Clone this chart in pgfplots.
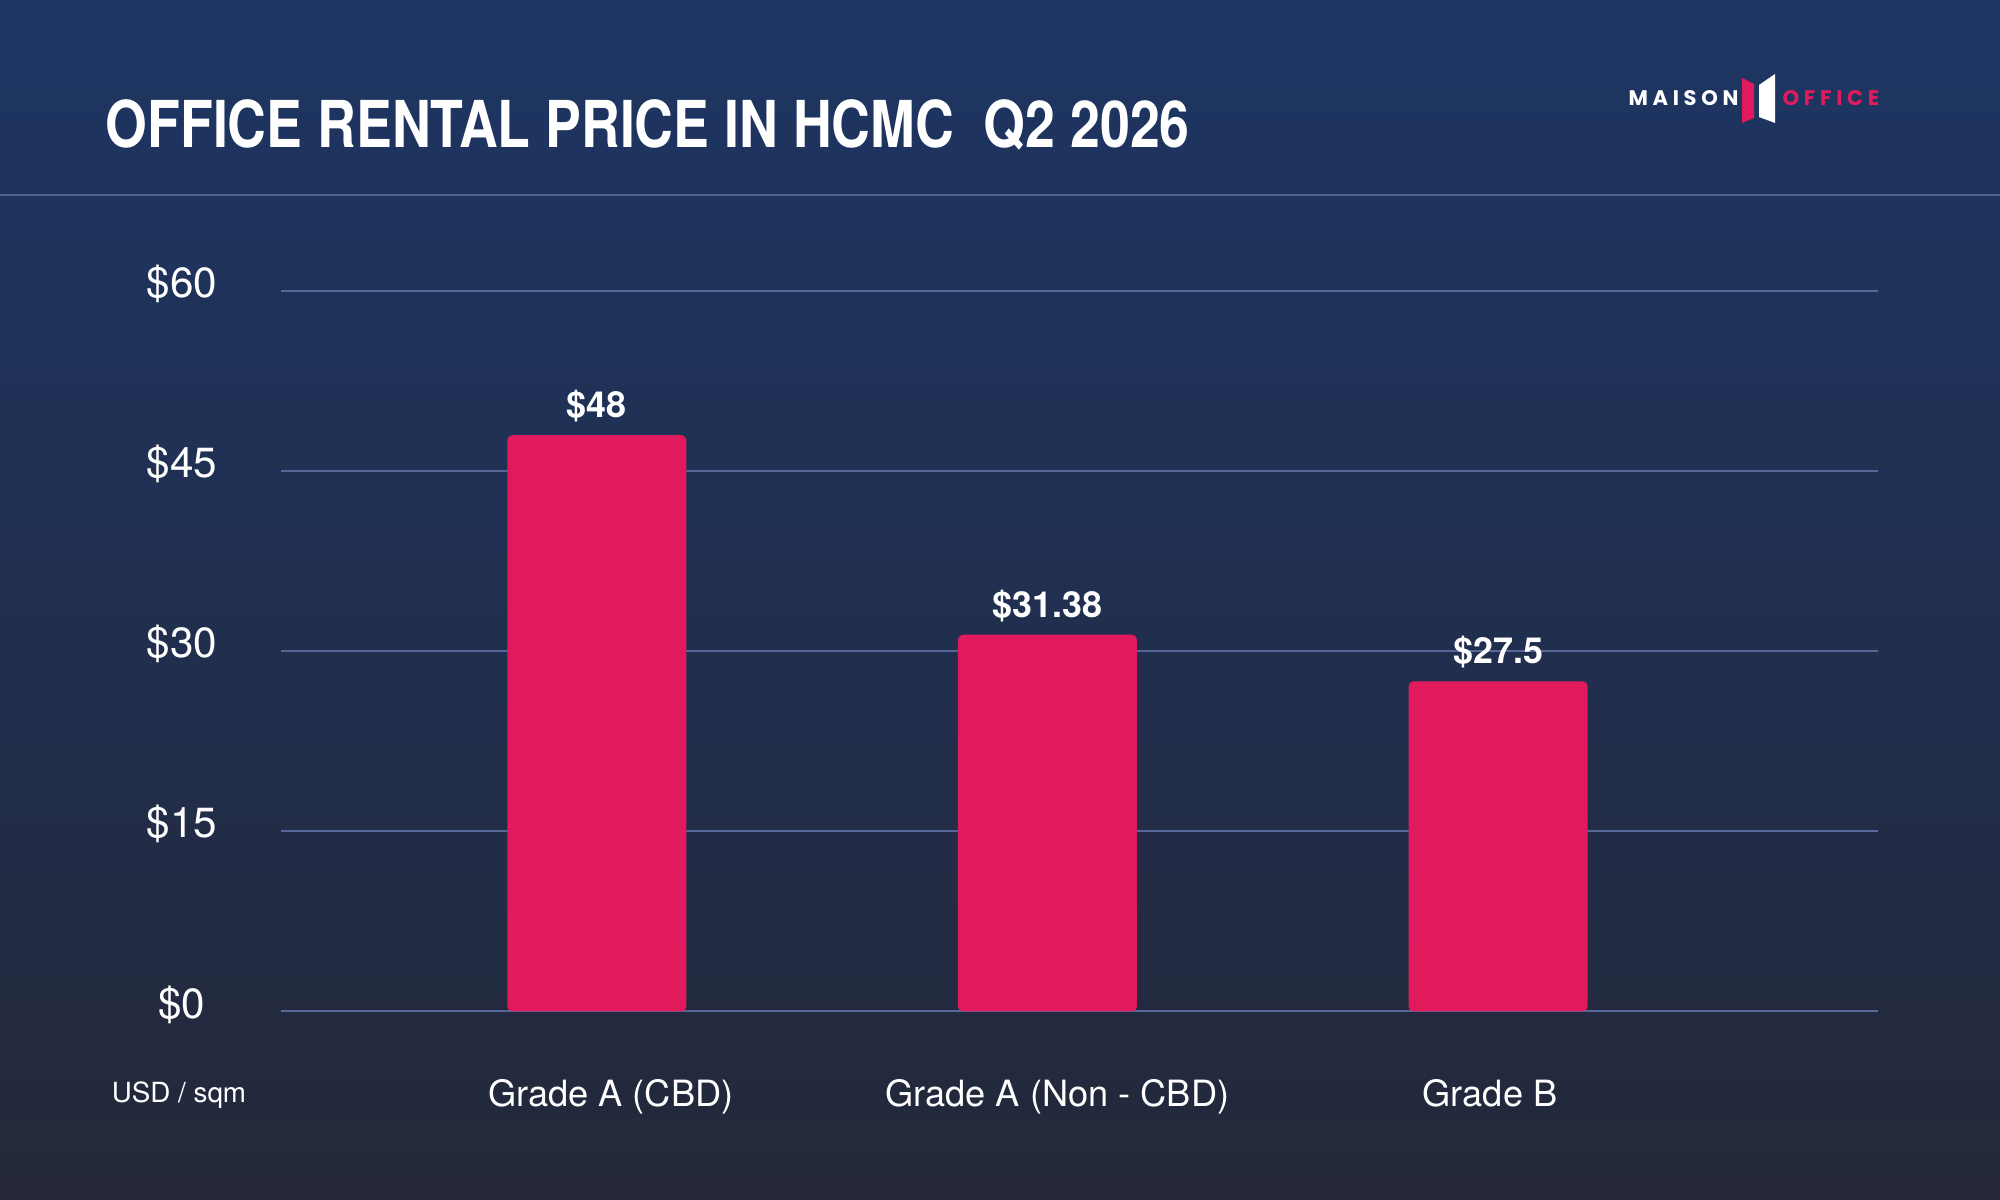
\documentclass[border=0pt]{standalone}
\usepackage{pgfplots}
\pgfplotsset{compat=1.18}
\usepackage{pgfplotstable}
\usepackage{fontspec}
\setmainfont{TeX Gyre Heros}
\newfontfamily\logofont[LetterSpace=22]{Poppins}

\definecolor{bgtop}{HTML}{1D3664}
\definecolor{bgmid}{HTML}{212F50}
\definecolor{bgbot}{HTML}{242838}
\definecolor{barpink}{HTML}{E11A5D}
\definecolor{gridc}{HTML}{56689A}
\definecolor{rulec}{HTML}{4E6394}

% Average asking rent, USD per sqm per month
\pgfplotstableread{
x y
0 48
1 31.38
2 27.5
}\rents

\begin{document}
\begin{tikzpicture}[x=0.1mm,y=0.1mm]
  % background
  \path[use as bounding box] (0,0) rectangle (2000,1200);
  \begin{scope}
    \clip (0,0) rectangle (2000,1200);
    \shade[top color=bgtop, bottom color=bgbot, middle color=bgmid] (-20,-20) rectangle (2020,1220);
  \end{scope}
  \draw[rulec, line width=0.15mm] (0,1005) -- (2000,1005);

  % title
  \node[anchor=base west, inner sep=0, text=white,
        font=\fontsize{18.4}{20}\selectfont\bfseries] at (105,1052)
       {\scalebox{0.83}[1]{OFFICE RENTAL PRICE IN HCMC\ \ Q2 2026}};

  % brand mark
  \node[anchor=base west, inner sep=0, text=white,
        font=\logofont\fontsize{6}{6}\selectfont\bfseries] at (1628,1094) {MAISON};
  \fill[barpink] (1742,1122) -- (1754,1116) -- (1754,1082) -- (1742,1077) -- cycle;
  \fill[white] (1759,1115) -- (1775,1126) -- (1775,1077) -- (1759,1083) -- cycle;
  \node[anchor=base west, inner sep=0, text=barpink,
        font=\logofont\fontsize{6}{6}\selectfont\bfseries] at (1782,1094) {OFFICE};

  % unit note
  \node[anchor=base, inner sep=0, text=white, font=\fontsize{7.9}{9}\selectfont] at (179,97) {USD / sqm};

  \begin{axis}[
      at={(28.1mm,18.85mm)}, anchor=south west,
      scale only axis, width=159.7mm, height=72.05mm,
      xmin=-0.701, xmax=2.843, ymin=0, ymax=60,
      ytick={0,15,30,45,60},
      yticklabels={\$0,\$15,\$30,\$45,\$60},
      xtick={0.031,1.022,1.982},
      xticklabels={Grade A (CBD),Grade A (Non - CBD),Grade B},
      axis line style={draw=none},
      major tick length=0pt,
      ymajorgrids,
      grid style={gridc, line width=0.2mm},
      yticklabel style={anchor=center, xshift=-9.9mm, yshift=0.7mm,
                        text=white, font=\fontsize{12}{14}\selectfont},
      xticklabel style={anchor=base, yshift=-9.55mm, inner sep=0pt,
                        text=white, font=\fontsize{10.3}{12}\selectfont},
      clip=false,
    ]
    \addplot[ybar, bar width=17.9mm, fill=barpink, draw=none,
             rounded corners=0.5mm,
             nodes near coords={\$\pgfmathprintnumber[assume math mode=true]{\pgfplotspointmeta}},
             nodes near coords style={anchor=center, yshift=2.9mm, text=white,
                                      font=\fontsize{10.2}{12}\selectfont\bfseries}]
      table[x=x, y=y] {\rents};
  \end{axis}
\end{tikzpicture}
\end{document}
